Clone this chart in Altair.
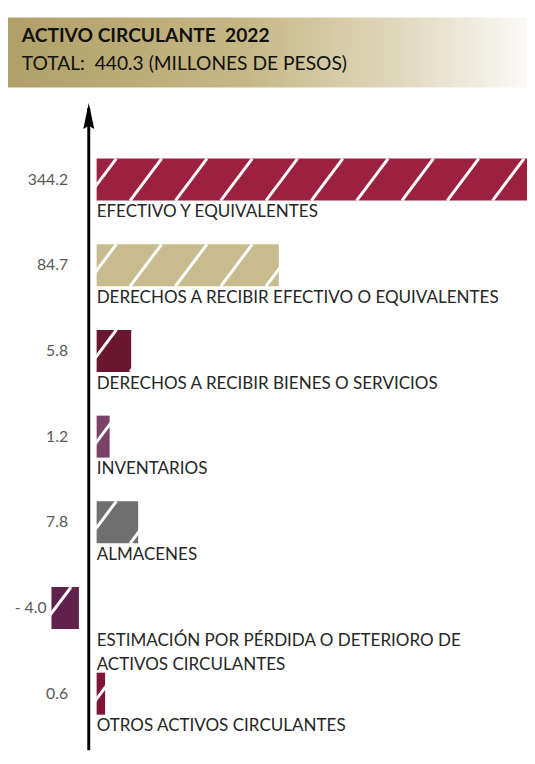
import altair as alt
import pandas as pd
import numpy as np

# ---- data ----
categories = [
    "EFECTIVO Y EQUIVALENTES",
    "DERECHOS A RECIBIR EFECTIVO O EQUIVALENTES",
    "DERECHOS A RECIBIR BIENES O SERVICIOS",
    "INVENTARIOS",
    "ALMACENES",
    "ESTIMACIÓN POR PÉRDIDA O DETERIORO DE\nACTIVOS CIRCULANTES",
    "OTROS ACTIVOS CIRCULANTES",
]
values = [344.2, 84.7, 5.8, 1.2, 7.8, -4.0, 0.6]
value_text = ["344.2", "84.7", "5.8", "1.2", "7.8", "- 4.0", "0.6"]
bar_colors = ["#9c2140", "#c8bc8e", "#6b1631", "#7b4268", "#6f6f6f", "#62204d", "#7e1537"]
title_lines = ["ACTIVO CIRCULANTE\u00a0 2022", "TOTAL:\u00a0 440.3 (MILLONES DE PESOS)"]

# ---- layout ----
W, H = 527, 744
EXP = 0.62          # bar lengths follow a power scale
K = 11.8            # px per transformed unit
ZERO = 82           # px position of zero (the arrow)
ROW0, ROW_STEP = 168.5, 87.0
HALF = 0.245


def inv(t):
    return float(np.sign(t) * np.abs(t) ** (1 / EXP))


xs = alt.Scale(type="pow", exponent=EXP, domain=[inv(-ZERO / K), inv((W - ZERO) / K)],
               nice=False, zero=False)
ys = alt.Scale(domain=[-ROW0 / ROW_STEP, (H - ROW0) / ROW_STEP], reverse=True, nice=False, zero=False)

n = len(values)
df = pd.DataFrame({
    "row": list(range(n)),
    "cat": categories,
    "val": values,
    "vtext": value_text,
    "color": bar_colors,
})
df["zero"] = 0.0
df["y0"] = df["row"] - HALF
df["y1"] = df["row"] + HALF
df["ylab"] = df["row"] + 0.28

# decorative diagonal white stripes inside each bar
srows = []
for r, v in zip(df["row"], df["val"]):
    T = abs(v) ** EXP * K
    left = 0.0 if v >= 0 else -T
    off = -12.0
    while off < T:
        b = left + off
        srows.append({"sxb": inv(b / K), "sxt": inv((b + 32) / K),
                      "syb": r + HALF, "syt": r - HALF, "neg": v < 0})
        off += 46.0
sdf = pd.DataFrame(srows)

header = alt.Chart(pd.DataFrame({"a": [0]})).mark_rect(
    color=alt.Gradient(
        gradient="linear",
        stops=[alt.GradientStop(offset=0, color="#b0a068"),
               alt.GradientStop(offset=0.45, color="#c5b784"),
               alt.GradientStop(offset=0.75, color="#e0d8bd"),
               alt.GradientStop(offset=1, color="#fbfaf6")],
        x1=0, x2=1, y1=0, y2=0)
).encode(x=alt.value(-1), x2=alt.value(W + 2), y=alt.value(4), y2=alt.value(75))

tdf = pd.DataFrame({"t": title_lines, "i": [0, 1]})
title1 = alt.Chart(tdf).transform_filter("datum.i == 0").mark_text(
    align="left", baseline="middle", font="Lato", fontWeight="bold", fontSize=19.5, color="#111111"
).encode(x=alt.value(14), y=alt.value(23), text="t:N")
title2 = alt.Chart(tdf).transform_filter("datum.i == 1").mark_text(
    align="left", baseline="middle", font="Lato", fontSize=19.5, color="#111111"
).encode(x=alt.value(14), y=alt.value(51), text="t:N")

base = alt.Chart(df)
bars_pos = base.transform_filter("datum.val >= 0").mark_rect(xOffset=8, x2Offset=8).encode(
    x=alt.X("zero:Q", scale=xs, axis=None),
    x2="val:Q",
    y=alt.Y("y0:Q", scale=ys, axis=None),
    y2="y1:Q",
    color=alt.Color("color:N", scale=None),
)
bars_neg = base.transform_filter("datum.val < 0").mark_rect(xOffset=-10, x2Offset=-10).encode(
    x=alt.X("val:Q", axis=None),
    x2="zero:Q",
    y=alt.Y("y0:Q", axis=None),
    y2="y1:Q",
    color=alt.Color("color:N", scale=None),
)

sbase = alt.Chart(sdf)
stripes_pos = sbase.transform_filter("!datum.neg").mark_rule(
    color="white", strokeWidth=3, xOffset=8, x2Offset=8
).encode(x=alt.X("sxb:Q", axis=None), x2="sxt:Q", y=alt.Y("syb:Q", axis=None), y2="syt:Q")
stripes_neg = sbase.transform_filter("datum.neg").mark_rule(
    color="white", strokeWidth=3, xOffset=-10, x2Offset=-10
).encode(x=alt.X("sxb:Q", axis=None), x2="sxt:Q", y=alt.Y("syb:Q", axis=None), y2="syt:Q")

vlab_pos = base.transform_filter("datum.val >= 0").mark_text(
    align="right", baseline="middle", dx=-21, font="Lato", fontSize=16, color="#595959"
).encode(x=alt.X("zero:Q", axis=None), y=alt.Y("row:Q", axis=None), text="vtext:N")
vlab_neg = base.transform_filter("datum.val < 0").mark_text(
    align="right", baseline="middle", dx=-15, font="Lato", fontSize=16, color="#595959"
).encode(x=alt.X("val:Q", axis=None), y=alt.Y("row:Q", axis=None), text="vtext:N")

clab = base.mark_text(
    align="left", baseline="top", dx=8, font="Lato", fontSize=17.3, color="#262626",
    lineBreak="\n", lineHeight=25
).encode(x=alt.X("zero:Q", axis=None), y=alt.Y("ylab:Q", axis=None), text="cat:N")

adf = pd.DataFrame({"a": [0.0]})
arrow = alt.Chart(adf).mark_rule(color="black", strokeWidth=3).encode(
    x=alt.X("a:Q", axis=None), y=alt.value(96), y2=alt.value(H + 4))
head = alt.Chart(adf).mark_point(
    shape="M0,-1L0.42,1L0,0.75L-0.42,1Z", filled=True, color="black", opacity=1, size=700
).encode(x=alt.X("a:Q", axis=None), y=alt.value(104))

chart = alt.layer(
    header, title1, title2, bars_pos, bars_neg, stripes_pos, stripes_neg,
    vlab_pos, vlab_neg, clab, arrow, head
).properties(
    width=W, height=H, padding=0, autosize=alt.AutoSizeParams(type="none")
).configure_view(stroke=None)

chart.save("out.html", embed_options={"renderer": "svg", "actions": False})
